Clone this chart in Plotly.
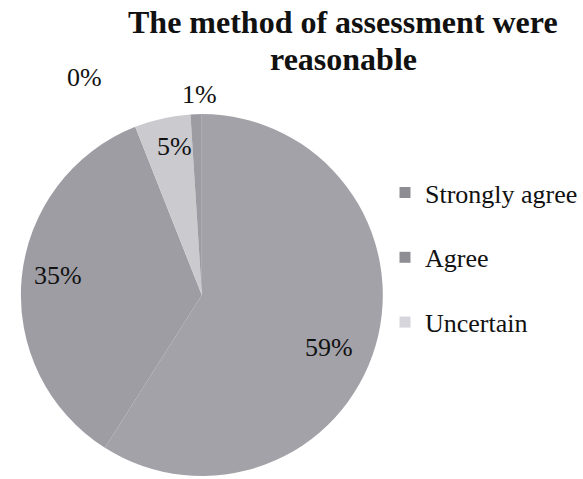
import math
import plotly.graph_objects as go

labels = ["Strongly agree", "Agree", "Uncertain", "Disagree", "Strongly disagree"]
values = [59, 35, 5, 1, 0]
colors = ["#a3a2a8", "#9e9da4", "#cbcacf", "#9d9ca2", "#7c7b80"]
legend_labels = ["Strongly agree", "Agree", "Uncertain"]
legend_colors = ["#8e8d93", "#8e8d93", "#d6d5dc"]

# where each percentage label sits: fraction of the radius, angle nudge (deg)
label_r = [0.76, 0.80, 0.83, 1.10, 1.36]
label_nudge = [6, 2.5, 2, 1, -28.5]

serif = "Liberation Serif, Times New Roman, serif"
W, H = 583, 479
dom_x = [0.036, 0.660]
dom_y = [0.002, 0.766]

pie = go.Pie(
    labels=labels,
    values=values,
    sort=False,
    direction="clockwise",
    rotation=0,
    marker=dict(colors=colors, line=dict(width=0)),
    textinfo="none",
    domain=dict(x=dom_x, y=dom_y),
    showlegend=False,
    hoverinfo="label+percent",
)

data = [pie]
# legend only lists the first three answers, as in the original
for i, (name, c) in enumerate(zip(legend_labels, legend_colors)):
    data.append(go.Scatter(
        x=[None], y=[None],
        mode="markers",
        name=name,
        legendgroup=str(i),
        marker=dict(symbol="square", size=11, color=c),
    ))

fig = go.Figure(data=data)

# percentage labels placed around the pie from the slice angles
cx = (dom_x[0] + dom_x[1]) / 2 * W
cy = (dom_y[0] + dom_y[1]) / 2 * H
R = min((dom_x[1] - dom_x[0]) * W, (dom_y[1] - dom_y[0]) * H) / 2
total = sum(values)
cum = 0
for v, r, nd in zip(values, label_r, label_nudge):
    mid = (cum + v / 2) / total * 360 + nd
    cum += v
    a = math.radians(mid)
    px = cx + r * R * math.sin(a)
    py = cy + r * R * math.cos(a)
    fig.add_annotation(
        x=px / W, y=py / H, xref="paper", yref="paper",
        text=f"{round(v / total * 100)}%", showarrow=False,
        xanchor="center", yanchor="middle",
        font=dict(family=serif, size=26, color="#111111"),
    )

title_lines = ["The method of assessment were", "reasonable"]
for line, ty in zip(title_lines, [0.954, 0.877]):
    fig.add_annotation(
        x=0.592, y=ty, xref="paper", yref="paper",
        text=f"<b>{line}</b>", showarrow=False,
        xanchor="center", yanchor="middle",
        font=dict(family=serif, size=32, color="#111111"),
    )

fig.update_layout(
    width=W,
    height=H,
    paper_bgcolor="white",
    plot_bgcolor="white",
    margin=dict(l=0, r=0, t=0, b=0),
    legend=dict(
        x=0.664, xanchor="left",
        y=0.647, yanchor="top",
        font=dict(family=serif, size=26, color="#111111"),
        tracegroupgap=28,
        bgcolor="rgba(0,0,0,0)",
    ),
    xaxis=dict(visible=False),
    yaxis=dict(visible=False),
)

# drop the page's default body margin so the figure sits at the window corner
fig.write_html(
    "out.html",
    config={"displayModeBar": False},
    post_script="document.body.style.margin='0';",
)
